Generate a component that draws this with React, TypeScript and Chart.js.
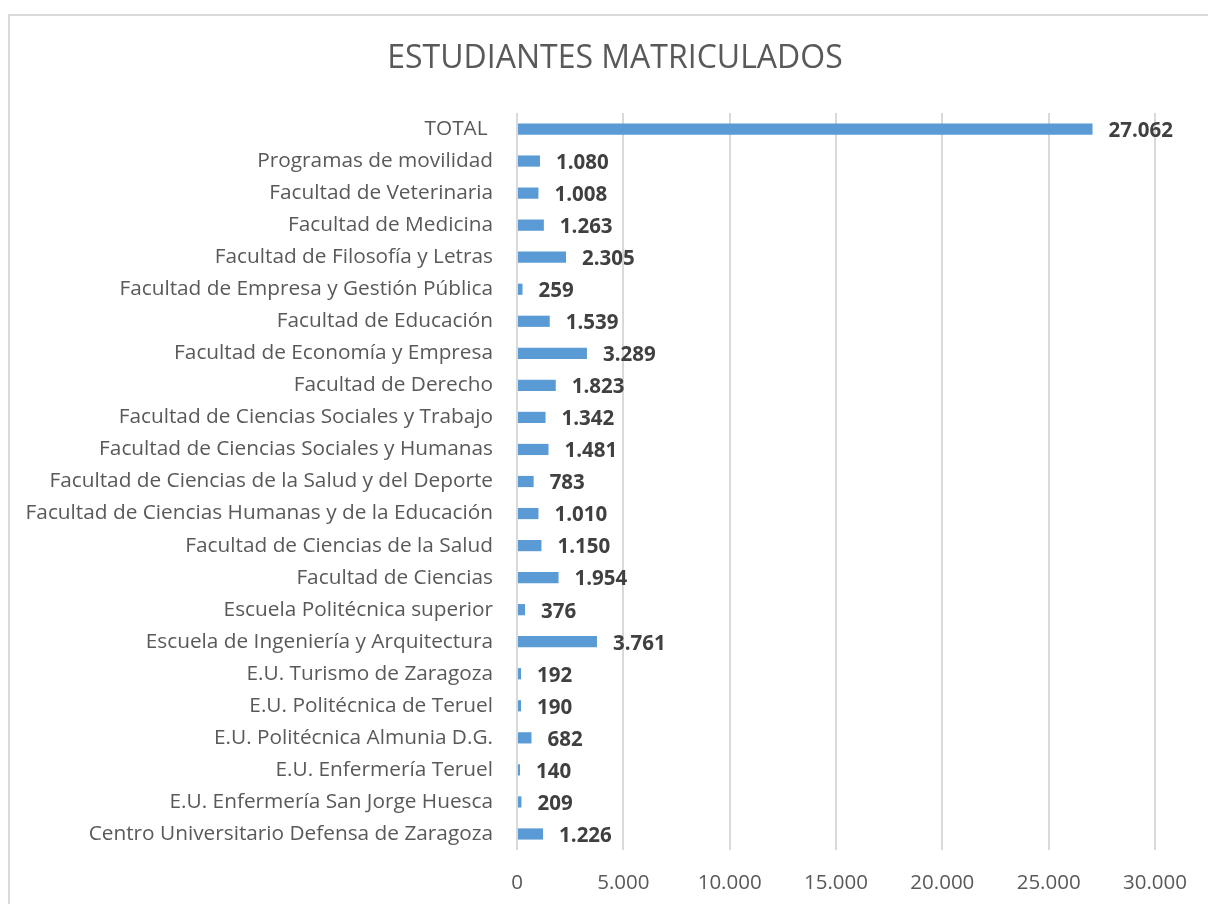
import React, { useEffect, useRef } from "react";
import { Chart, registerables } from "chart.js";

Chart.register(...registerables);

const categories = [
  "TOTAL ",
  "Programas de movilidad",
  "Facultad de Veterinaria",
  "Facultad de Medicina",
  "Facultad de Filosofía y Letras",
  "Facultad de Empresa y Gestión Pública",
  "Facultad de Educación",
  "Facultad de Economía y Empresa",
  "Facultad de Derecho",
  "Facultad de Ciencias Sociales y Trabajo",
  "Facultad de Ciencias Sociales y Humanas",
  "Facultad de Ciencias de la Salud y del Deporte",
  "Facultad de Ciencias Humanas y de la Educación",
  "Facultad de Ciencias de la Salud",
  "Facultad de Ciencias",
  "Escuela Politécnica superior",
  "Escuela de Ingeniería y Arquitectura",
  "E.U. Turismo de Zaragoza",
  "E.U. Politécnica de Teruel",
  "E.U. Politécnica Almunia D.G.",
  "E.U. Enfermería Teruel",
  "E.U. Enfermería San Jorge Huesca",
  "Centro Universitario Defensa de Zaragoza",
];

const students = [
  27062, 1080, 1008, 1263, 2305, 259, 1539, 3289, 1823, 1342, 1481, 783, 1010,
  1150, 1954, 376, 3761, 192, 190, 682, 140, 209, 1226,
];

const axisMin = 0;
const axisMax = 30000;
const axisStep = 5000;

const title = "ESTUDIANTES MATRICULADOS";

const FONT = "'Open Sans', 'Noto Sans', sans-serif";

const fmt = (n: number) =>
  Math.round(n)
    .toString()
    .replace(/\B(?=(\d{3})+(?!\d))/g, ".");

const valueLabels = {
  id: "valueLabels",
  afterDatasetsDraw(chart: any) {
    const ctx = chart.ctx;
    const meta = chart.getDatasetMeta(0);
    ctx.save();
    ctx.font = `bold 20.5px ${FONT}`;
    ctx.fillStyle = "#404040";
    ctx.textAlign = "left";
    ctx.textBaseline = "middle";
    meta.data.forEach((bar: any, i: number) => {
      ctx.fillText(fmt(students[i]), bar.x + 16, bar.y + 2);
    });
    ctx.restore();
  },
};

const titlePlugin = {
  id: "titlePlugin",
  afterDraw(chart: any) {
    const ctx = chart.ctx;
    ctx.save();
    ctx.font = `32px ${FONT}`;
    ctx.fillStyle = "#595959";
    ctx.textAlign = "center";
    ctx.textBaseline = "middle";
    ctx.fillText(title, 605, 43);
    ctx.restore();
  },
};

export default function App() {
  const ref = useRef<HTMLCanvasElement>(null);

  useEffect(() => {
    if (!ref.current) return;
    const chart = new Chart(ref.current, {
      type: "bar",
      data: {
        labels: categories,
        datasets: [
          {
            data: students,
            backgroundColor: "#5b9bd5",
            borderWidth: 0,
            barPercentage: 0.35,
            categoryPercentage: 1,
          },
        ],
      },
      options: {
        indexAxis: "y",
        animation: false,
        responsive: false,
        maintainAspectRatio: false,
        layout: { padding: { left: 0, right: 50, top: 97, bottom: 0 } },
        plugins: {
          legend: { display: false },
          tooltip: { enabled: false },
          title: { display: false },
        },
        scales: {
          x: {
            min: axisMin,
            max: axisMax,
            grid: {
              color: "#d9d9d9",
              lineWidth: 2,
              drawTicks: false,
            },
            border: { display: false },
            ticks: {
              stepSize: axisStep,
              padding: 21,
              color: "#595959",
              font: { family: FONT, size: 20.5 },
              callback: (v: any) => fmt(Number(v)),
            },
            afterFit: (scale: any) => {
              scale.height = 54;
            },
          },
          y: {
            grid: { display: false, drawTicks: false },
            border: { display: false },
            ticks: {
              padding: 24,
              color: "#595959",
              font: { family: FONT, size: 20.8 },
              autoSkip: false,
            },
            afterFit: (scale: any) => {
              scale.width = 507;
            },
          },
        },
      },
      plugins: [valueLabels, titlePlugin],
    });
    return () => chart.destroy();
  }, []);

  return (
    <div
      style={{
        position: "absolute",
        left: 8,
        top: 14,
        width: 1200,
        height: 890,
        borderLeft: "2px solid #d9d9d9",
        borderTop: "2px solid #d9d9d9",
        boxSizing: "border-box",
        background: "#fff",
      }}
    >
      <canvas ref={ref} width={1198} height={888} style={{ display: "block" }} />
    </div>
  );
}
